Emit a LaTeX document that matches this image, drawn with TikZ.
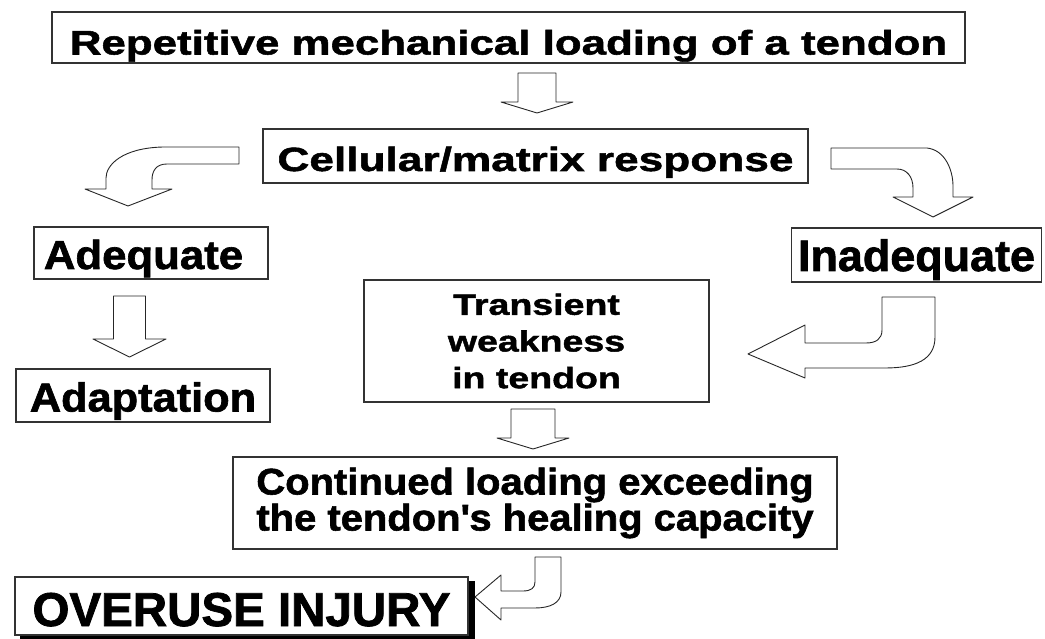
\documentclass[tikz,border=0pt]{standalone}
\usepackage{fontspec}
\setmainfont{Liberation Sans}
\newcommand\boxfont[3]{\fontsize{#1}{#2}\selectfont\bfseries\addfontfeatures{FakeStretch=#3, FakeBold=1.6}}

\tikzset{
	box/.style={draw=black!80, line width=1.1pt, rectangle, inner sep=0pt, fill=white},
	caps/.style={text height=#1, text depth=0pt},
	blockarrow/.style={draw=black!85, line width=0.9pt, fill=white, line join=round},
}

% x centre, shaft half width, head half width, top, head base, tip
\newcommand\blockdown[6]{%
	\draw[blockarrow] ({#1-#2},#4) -- ({#1+#2},#4) -- ({#1+#2},#5) -- ({#1+#3},#5)
		-- (#1,#6) -- ({#1-#3},#5) -- ({#1-#2},#5) -- cycle;}

\begin{document}
\begin{tikzpicture}[x=1pt, y=-1pt]
	\useasboundingbox (0,0) rectangle (1045,639);

	\node[box, caps=34pt, minimum width=913pt, minimum height=51pt,
		font=\boxfont{34}{34}{1.29}] (load) at (508.5,37.5)
		{Repetitive mechanical loading of a tendon};
	\node[box, caps=30pt, minimum width=545pt, minimum height=54pt,
		font=\boxfont{33.5}{33.5}{1.32}] (resp) at (535.5,156)
		{Cellular/matrix response};
	\node[box, caps=32pt, minimum width=234pt, minimum height=52pt,
		font=\boxfont{40.5}{40.5}{1.08}] (adeq) at (151,253) {Adequate\hspace*{15pt}};
	\node[box, caps=32pt, minimum width=250pt, minimum height=54pt,
		font=\boxfont{44}{44}{1.02}] (inadeq) at (916.5,255) {Inadequate};
	\node[box, caps=32pt, minimum width=254pt, minimum height=53pt,
		font=\boxfont{40.5}{40.5}{1.07}] (adapt) at (143,395.5) {Adaptation};
	\node[box, align=center, minimum width=345pt, minimum height=122pt,
		font=\boxfont{29.3}{36.7}{1.28}] (weak) at (536.5,341)
		{Transient\\weakness\\in tendon};
	\node[box, align=center, minimum width=604pt, minimum height=92pt,
		font=\boxfont{37}{36}{1.08}] (cont) at (535,503)
		{Continued loading exceeding\\the tendon\textquotesingle s healing capacity};

	% shadowed result box
	\fill[black] (20,581) rectangle (475,641);
	\node[box, caps=40pt, minimum width=453pt, minimum height=58pt,
		font=\boxfont{47.5}{47.5}{1.0}] (injury) at (241.5,606) {OVERUSE INJURY};

	\blockdown{537}{19}{36}{73}{102}{113}
	\blockdown{129.5}{16}{36.5}{296}{339}{357}
	\blockdown{533}{22}{36}{409}{438}{449}

	% resp to adeq
	\draw[blockarrow] (239,147) -- (163,147) .. controls (122,148) and (106,165) .. (106,178)
		-- (106,189) -- (85,189) -- (128,206) -- (172,189) -- (152,189) -- (152,180)
		.. controls (152,171) and (156,164) .. (167,164) -- (239,164) -- cycle;
	% resp to inadeq
	\draw[blockarrow] (831,148) -- (927,148) .. controls (945,150) and (953,170) .. (953,186)
		-- (953,197) -- (973,197) -- (933,217) -- (893,197) -- (913,197) -- (913,188)
		.. controls (913,177) and (907,169) .. (897,169) -- (831,169) -- cycle;
	% inadeq to weak
	\draw[blockarrow] (882,297) -- (935,297) -- (935,337) .. controls (935,360) and (915,368) .. (885,368)
		-- (805,368) -- (805,378) -- (748,354) -- (805,325) -- (805,343) -- (866,343)
		.. controls (876,343) and (882,339) .. (882,330) -- cycle;
	% cont to injury
	\draw[blockarrow] (535,557) -- (561,557) -- (561,592) .. controls (561,603) and (550,608) .. (535,608)
		-- (501,608) -- (501,620) -- (475,597) -- (501,575) -- (501,591) -- (523,591)
		.. controls (531,591) and (535,588) .. (535,582) -- cycle;
\end{tikzpicture}
\end{document}
